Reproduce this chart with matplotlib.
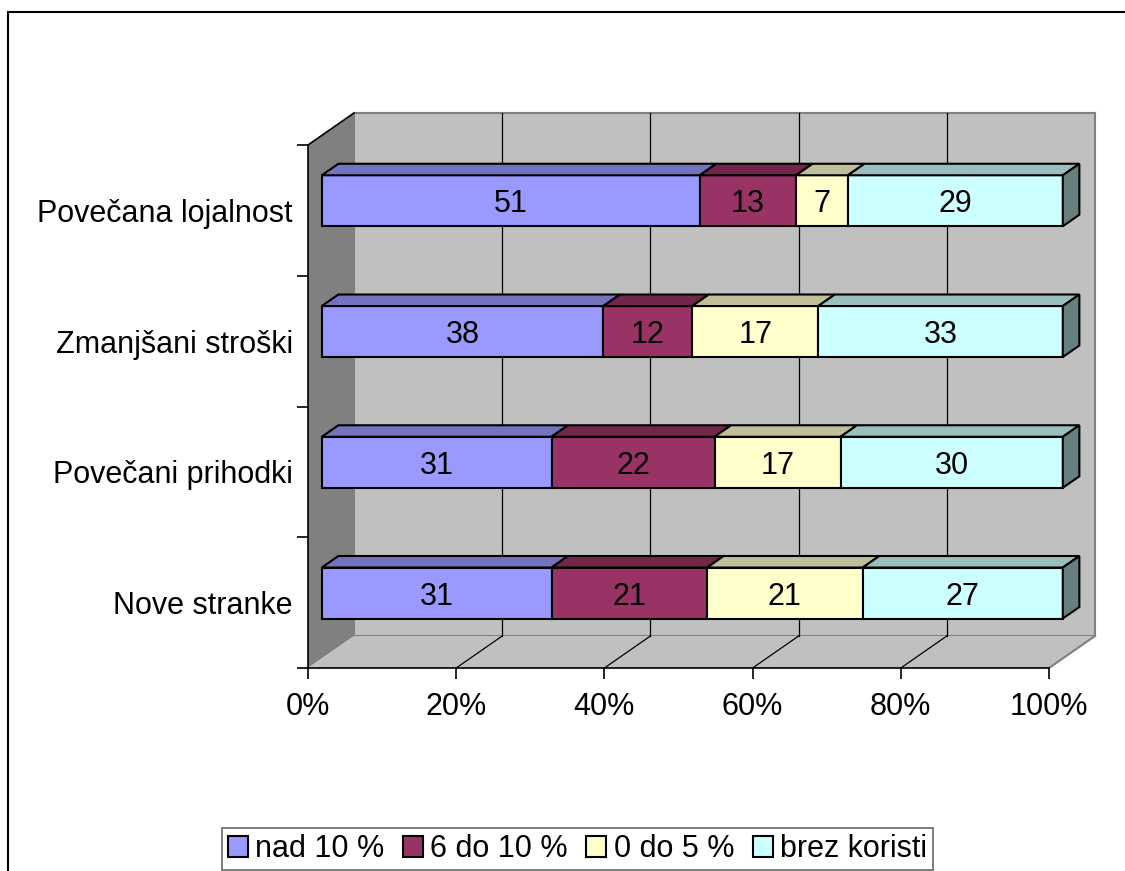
import matplotlib.pyplot as plt
from matplotlib.patches import Polygon, Patch, Rectangle

plt.rcParams['font.family'] = ['Liberation Sans', 'DejaVu Sans']

# categories from bottom to top
categories = ["Nove stranke", "Povečani prihodki", "Zmanjšani stroški", "Povečana lojalnost"]
series = ["nad 10 %", "6 do 10 %", "0 do 5 %", "brez koristi"]
nad10 = [31, 31, 38, 51]
od6do10 = [21, 22, 12, 13]
od0do5 = [21, 17, 17, 7]
brez = [27, 30, 33, 29]
values = [nad10, od6do10, od0do5, brez]

xticks = [0, 20, 40, 60, 80, 100]
xticklabels = ["0%", "20%", "40%", "60%", "80%", "100%"]

front_col = ['#9999FF', '#993366', '#FFFFCC', '#CCFFFF']
top_col = ['#7373BF', '#732649', '#BFBF99', '#99BFBF']
side_col = ['#4D4D80', '#4D1A33', '#808066', '#668080']

FS = 22
W, H = 1125, 871
fig = plt.figure(figsize=(W / 100, H / 100), dpi=100)
ax = fig.add_axes([308 / W, 1 - 668 / H, 741 / W, 523 / H])
ax.set_xlim(0, 100)
ax.set_ylim(0, 4)
ax.patch.set_visible(False)

# 3D depth offset of the full wall, in data units
DX = 46 / 741 * 100
DY = 32 / 523 * 4
D0, D1 = 0.30, 0.66
BAR_H = 0.39


def proj(x, y, d):
    return (x + d * DX, y + d * DY)


def poly(pts, fc, ec='none', lw=0.0, z=1):
    ax.add_patch(Polygon(pts, closed=True, facecolor=fc, edgecolor=ec,
                         linewidth=lw, clip_on=False, zorder=z, joinstyle='miter'))


n = len(categories)
# walls
poly([proj(0, 0, 1), proj(100, 0, 1), proj(100, n, 1), proj(0, n, 1)], '#C0C0C0', '#808080', 1.5, 0)
poly([proj(0, 0, 0), proj(0, n, 0), proj(0, n, 1), proj(0, 0, 1)], '#808080', 'none', 0, 0.5)
poly([proj(0, 0, 0), proj(100, 0, 0), proj(100, 0, 1), proj(0, 0, 1)], '#C0C0C0', 'none', 0, 0.5)
ax.plot(*zip(proj(100, 0, 0), proj(100, 0, 1)), color='#808080', lw=1.5, clip_on=False, zorder=0.6)
ax.plot(*zip(proj(0, n, 0), proj(0, n, 1)), color='black', lw=1.2, clip_on=False, zorder=0.6)

# gridlines on back wall and floor
for t in xticks[1:-1]:
    ax.plot(*zip(proj(t, 0, 1), proj(t, n, 1)), color='black', lw=0.9, clip_on=False, zorder=0.7)
    ax.plot(*zip(proj(t, 0, 0), proj(t, 0, 1)), color='black', lw=0.9, clip_on=False, zorder=0.7)

# bars
for i in range(n):
    c = i + 0.5
    ya, yb = c - BAR_H / 2, c + BAR_H / 2
    left = 0
    for k in range(len(series)):
        v = values[k][i]
        right = left + v
        poly([proj(left, ya, D0), proj(right, ya, D0), proj(right, yb, D0), proj(left, yb, D0)],
             front_col[k], 'black', 1.5, 2)
        poly([proj(left, yb, D0), proj(right, yb, D0), proj(right, yb, D1), proj(left, yb, D1)],
             top_col[k], 'black', 1.5, 2)
        if k == len(series) - 1:
            poly([proj(right, ya, D0), proj(right, yb, D0), proj(right, yb, D1), proj(right, ya, D1)],
                 side_col[k], 'black', 1.5, 2)
        tx, ty = proj((left + right) / 2, c, D0)
        ax.text(tx, ty, str(v), ha='center', va='center_baseline', fontsize=FS, zorder=3)
        left = right

# axes
for s in ['top', 'right']:
    ax.spines[s].set_visible(False)
for s in ['left', 'bottom']:
    ax.spines[s].set_linewidth(1.2)
    ax.spines[s].set_color('black')
    ax.spines[s].set_zorder(1.5)

ax.set_xticks(xticks)
ax.set_xticklabels(xticklabels, fontsize=FS)
ax.tick_params(axis='x', length=8, width=1.2, pad=9)
ax.set_yticks(range(n + 1))
ax.set_yticklabels([])
ax.tick_params(axis='y', which='major', length=8, width=1.2)
ax.set_yticks([i + 0.5 for i in range(n)], minor=True)
ax.set_yticklabels(categories, minor=True, fontsize=FS)
ax.tick_params(axis='y', which='minor', length=0, pad=11)

# legend
handles = [Patch(facecolor=front_col[k], edgecolor='black', linewidth=1.5) for k in range(len(series))]
leg = fig.legend(handles, series, loc='upper center', ncol=4,
                 bbox_to_anchor=(577.5 / W, 1 - 828 / H), fontsize=FS,
                 frameon=True, fancybox=False, handlelength=0.65, handleheight=0.65,
                 handletextpad=0.25, columnspacing=0.6, borderpad=0.2, borderaxespad=0)
leg.get_frame().set_edgecolor('#404040')
leg.get_frame().set_linewidth(1.2)

# outer chart border (top and left visible)
fig.patches.append(Rectangle((8 / W, -0.1), 1.2, 1.1 - 12 / H, transform=fig.transFigure,
                             fill=False, edgecolor='black', linewidth=1.5))

fig.savefig('out.png', dpi=100)
